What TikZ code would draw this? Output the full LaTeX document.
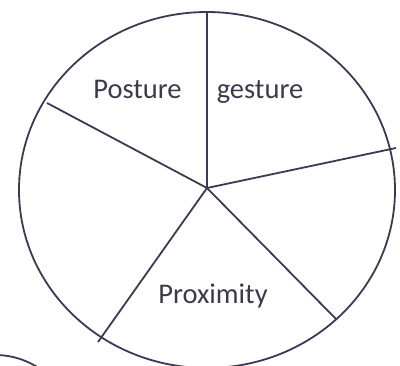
\documentclass[tikz,border=0pt]{standalone}
\usepackage{fontspec}
\setmainfont{Carlito}
\definecolor{inkline}{HTML}{3C3A52}
\definecolor{inktext}{HTML}{3A3A4C}
\begin{document}
\begin{tikzpicture}[x=1pt, y=-1pt]
    % Styles
    \tikzstyle{rim} = [draw=inkline, line width=1.8pt]
    \tikzstyle{spoke} = [draw=inkline, line width=1.8pt]
    \tikzstyle{label} = [text=inktext, font=\fontsize{28.5}{34}\selectfont, anchor=base, inner sep=0pt]
    \useasboundingbox (0,0) rectangle (400,366);
    \clip (0,0) rectangle (400,366);

    % === CIRCLE ===
    \coordinate (hub) at (207,188);
    \draw [rim] (207,190) ellipse [x radius=188, y radius=178];
    \draw [rim] (-5,435) circle [radius=80];

    % === SPOKES ===
    \coordinate (top) at (207,12);
    \coordinate (upleft) at (47,103);
    \coordinate (right) at (396,148);
    \coordinate (downright) at (336,319);
    \coordinate (downleft) at (98,342);
    \foreach \tip in {top, upleft, right, downright, downleft}
        \draw [spoke] (hub) -- (\tip);

    % === Labels ===
    \node [label] (posture) at (137.5,99) {Posture};
    \node [label] (gesture) at (260,99) {gesture};
    \node [label] (proximity) at (213,304) {Proximity};
\end{tikzpicture}
\end{document}
